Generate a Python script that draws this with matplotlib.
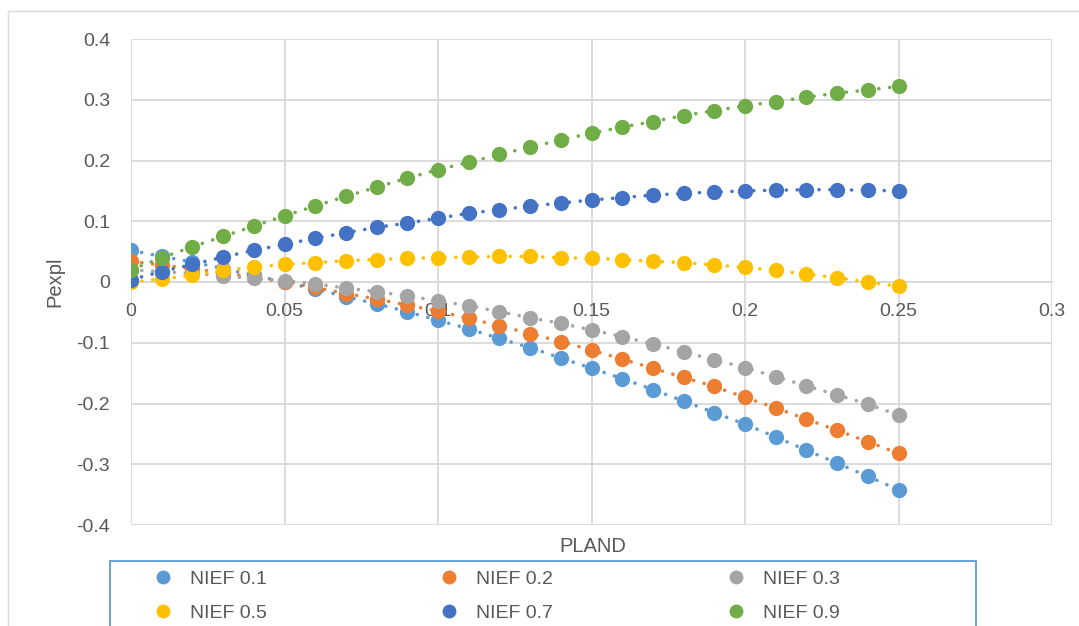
import matplotlib.pyplot as plt
from matplotlib.lines import Line2D
from matplotlib.patches import Rectangle

# PLAND values on the x axis (0 .. 0.25 step 0.01)
pland = [0.00, 0.01, 0.02, 0.03, 0.04, 0.05, 0.06, 0.07, 0.08, 0.09,
         0.10, 0.11, 0.12, 0.13, 0.14, 0.15, 0.16, 0.17, 0.18, 0.19,
         0.20, 0.21, 0.22, 0.23, 0.24, 0.25]

# Pexpl, one list per NIEF level
nief_01 = [0.052, 0.042, 0.033, 0.022, 0.011, 0.000, -0.012, -0.024, -0.036, -0.049,
           -0.063, -0.077, -0.093, -0.108, -0.125, -0.142, -0.159, -0.177, -0.196, -0.215,
           -0.234, -0.255, -0.277, -0.298, -0.320, -0.342]
nief_02 = [0.034, 0.028, 0.022, 0.015, 0.008, 0.000, -0.009, -0.019, -0.028, -0.038,
           -0.048, -0.060, -0.072, -0.085, -0.098, -0.112, -0.127, -0.142, -0.157, -0.172,
           -0.190, -0.207, -0.226, -0.244, -0.263, -0.282]
nief_03 = [0.020, 0.017, 0.014, 0.010, 0.006, 0.002, -0.003, -0.010, -0.016, -0.023,
           -0.031, -0.039, -0.049, -0.059, -0.068, -0.079, -0.090, -0.102, -0.115, -0.128,
           -0.141, -0.156, -0.171, -0.186, -0.201, -0.219]
nief_05 = [0.000, 0.005, 0.011, 0.019, 0.024, 0.029, 0.032, 0.035, 0.037, 0.039,
           0.040, 0.041, 0.042, 0.042, 0.040, 0.039, 0.037, 0.034, 0.032, 0.028,
           0.024, 0.019, 0.013, 0.007, 0.000, -0.007]
nief_07 = [0.004, 0.017, 0.029, 0.041, 0.052, 0.062, 0.072, 0.081, 0.090, 0.097,
           0.105, 0.113, 0.119, 0.125, 0.130, 0.135, 0.139, 0.143, 0.146, 0.148,
           0.150, 0.151, 0.152, 0.152, 0.151, 0.150]
nief_09 = [0.020, 0.040, 0.058, 0.075, 0.092, 0.109, 0.125, 0.141, 0.156, 0.171,
           0.185, 0.197, 0.210, 0.222, 0.234, 0.245, 0.255, 0.264, 0.274, 0.282,
           0.290, 0.297, 0.304, 0.311, 0.316, 0.322]

labels = ['NIEF 0.1', 'NIEF 0.2', 'NIEF 0.3', 'NIEF 0.5', 'NIEF 0.7', 'NIEF 0.9']
colors = ['#5B9BD5', '#ED7D31', '#A5A5A5', '#FFC000', '#4472C4', '#70AD47']
series = [nief_01, nief_02, nief_03, nief_05, nief_07, nief_09]

plt.rcParams['font.family'] = ['Liberation Sans', 'DejaVu Sans']
txt_col = '#595959'
grid_col = '#D9D9D9'

W, H = 1079, 626
fig = plt.figure(figsize=(W / 100, H / 100), dpi=100)
ax = fig.add_axes([131 / W, 1 - 525 / H, (1052 - 131) / W, (525 - 39) / H])

# outer chart frame
fig.patches.append(Rectangle((8 / W, -0.1), 1.2, 1.1 - 11 / H, transform=fig.transFigure,
                             fill=False, edgecolor=grid_col, linewidth=1.0))

for vals, c in zip(series, colors):
    ax.plot(pland, vals, linestyle=(0, (0.01, 3.0)), dash_capstyle='round',
            linewidth=2.6, color=c, zorder=3)
for vals, c in zip(series, colors):
    ax.plot(pland, vals, linestyle='none', marker='o', markersize=11,
            color=c, markeredgewidth=0, zorder=4)

ax.set_xlim(0, 0.3)
ax.set_ylim(-0.4, 0.4)
ax.set_xticks([0, 0.05, 0.1, 0.15, 0.2, 0.25, 0.3])
ax.set_xticklabels(['0', '0.05', '0.1', '0.15', '0.2', '0.25', '0.3'])
ax.set_yticks([0.4, 0.3, 0.2, 0.1, 0, -0.1, -0.2, -0.3, -0.4])
ax.set_yticklabels(['0.4', '0.3', '0.2', '0.1', '0', '-0.1', '-0.2', '-0.3', '-0.4'])
ax.grid(True, color=grid_col, linewidth=1.3, zorder=0)
ax.set_axisbelow(True)
for s in ['top', 'right', 'left']:
    ax.spines[s].set_visible(False)
ax.spines['bottom'].set_position(('data', 0))
ax.spines['bottom'].set_color(grid_col)
ax.spines['bottom'].set_linewidth(1.3)
ax.tick_params(axis='both', length=0, labelsize=14, labelcolor=txt_col)
ax.tick_params(axis='y', pad=15)
ax.tick_params(axis='x', pad=15)

fig.text(55 / W, 1 - 282 / H, 'Pexpl', rotation=90, ha='center', va='center',
         fontsize=14.5, color=txt_col)
fig.text(593 / W, 1 - 547 / H, 'PLAND', ha='center', va='center',
         fontsize=14.5, color=txt_col)

# legend box (runs off the bottom of the picture like the reference)
fig.patches.append(Rectangle((110 / W, -0.1), (976 - 110) / W, 0.1 + 1 - 561 / H,
                             transform=fig.transFigure, fill=False,
                             edgecolor='#5B9BD5', linewidth=1.3))

handles = [Line2D([], [], linestyle='none', marker='o', markersize=10,
                  color=c, markeredgewidth=0) for c in colors]
col_x = [153, 439, 726]
for k in range(3):
    fig.legend(handles=[handles[k], handles[k + 3]], labels=[labels[k], labels[k + 3]],
               loc='upper left', bbox_to_anchor=(col_x[k] / W, 1 - 570 / H),
               frameon=False, fontsize=14, labelcolor=txt_col, borderpad=0,
               borderaxespad=0, handlelength=1.0, handletextpad=0.9, labelspacing=0.85)

fig.savefig('out.png', dpi=100)
